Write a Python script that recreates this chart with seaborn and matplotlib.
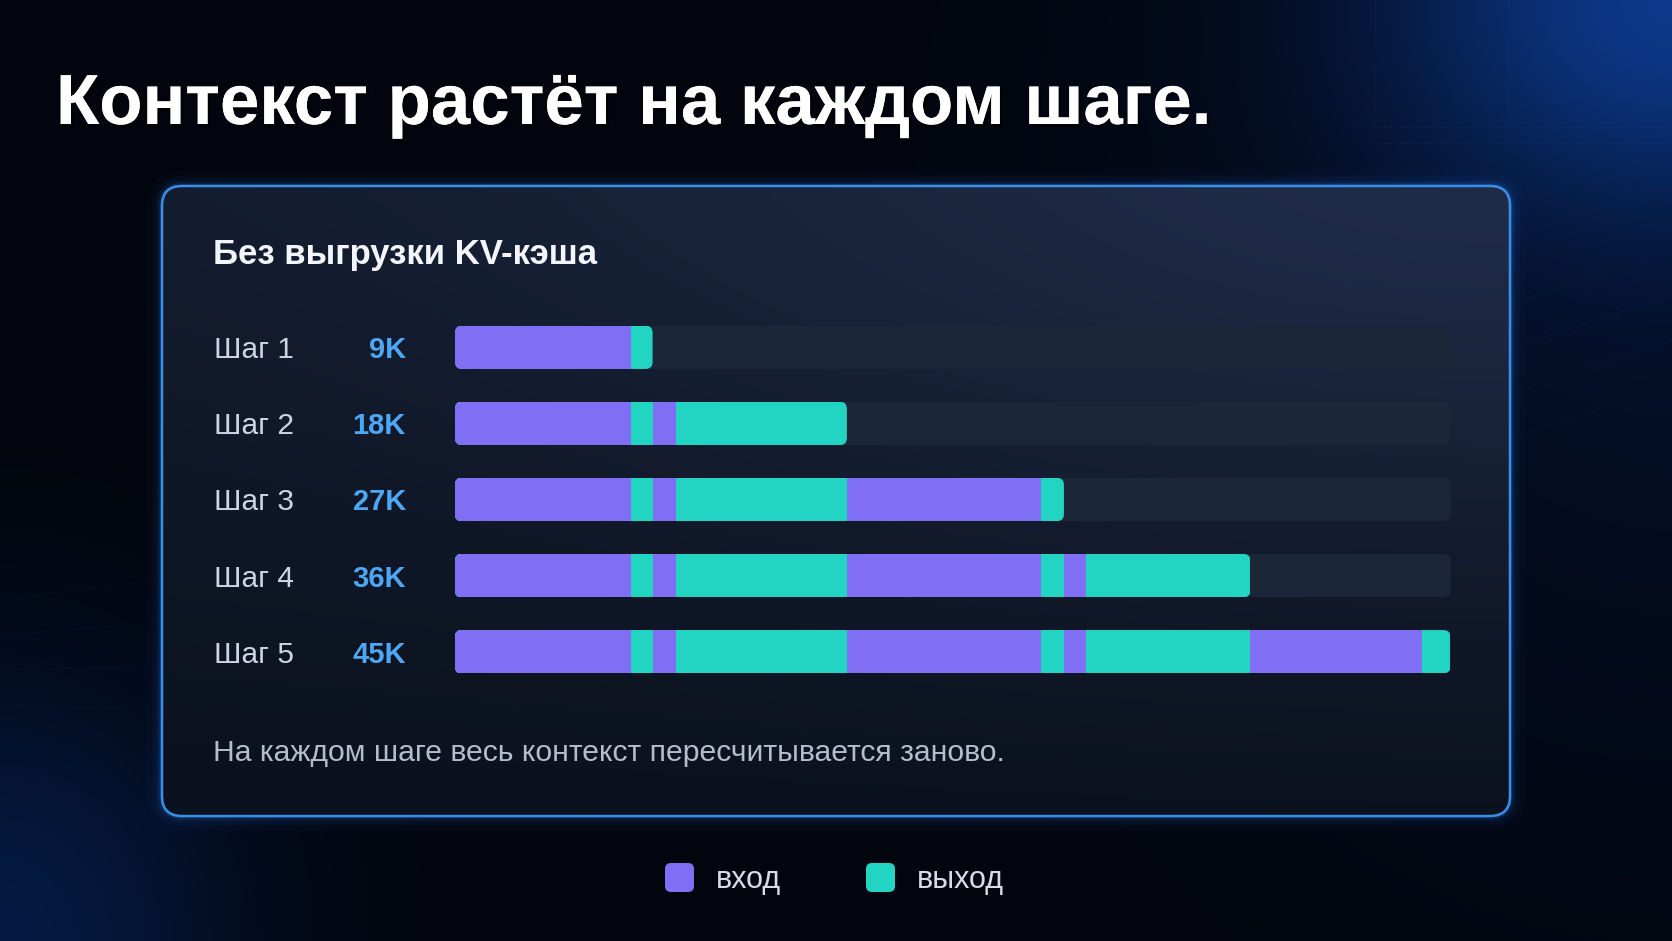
import numpy as np
import pandas as pd
import matplotlib
matplotlib.use("Agg")
import matplotlib.pyplot as plt
import matplotlib.patheffects as pe
from matplotlib.patches import FancyBboxPatch
from matplotlib.transforms import blended_transform_factory
import seaborn as sns

# ---------------- data ----------------
steps = ["Шаг 1", "Шаг 2", "Шаг 3", "Шаг 4", "Шаг 5"]
step_totals_labels = ["9K", "18K", "27K", "36K", "45K"]
segment_sizes = [7.94, 0.99, 1.05, 7.73, 8.77, 1.04, 0.99, 7.44, 7.77, 1.27]   # thousands of tokens
segment_kinds = ["вход", "выход", "вход", "выход", "вход", "выход", "вход", "выход", "вход", "выход"]
segments_per_step = [2, 4, 6, 8, 10]
track_max = 45
legend_labels = ["вход", "выход"]
title = "Контекст растёт на каждом шаге."
subtitle = "Без выгрузки KV-кэша"
footer = "На каждом шаге весь контекст пересчитывается заново."

# ---------------- style ----------------
sns.set_theme(style="white")
plt.rcParams["font.family"] = ["Liberation Sans", "DejaVu Sans"]

C_IN = "#806ef5"
C_OUT = "#22d5c2"
C_TRACK = "#1c2639"
colors = {"вход": C_IN, "выход": C_OUT}

W, H = 1672, 941
fig = plt.figure(figsize=(W / 100, H / 100), dpi=100)
fig.patch.set_facecolor("#03060f")

bg = fig.add_axes([0, 0, 1, 1])
bg.axis("off")

# background gradient
yy, xx = np.mgrid[0:H, 0:W].astype(float)
base = np.array([2, 5, 13], float)
g1 = np.exp(-(((xx - W) ** 2) / (2 * 200 ** 2) + (yy ** 2) / (2 * 150 ** 2)))
g1b = np.exp(-(((xx - W) ** 2) / (2 * 360 ** 2) + ((yy - 250) ** 2) / (2 * 400 ** 2)))
g2 = np.exp(-((xx ** 2) / (2 * 170 ** 2) + ((yy - H) ** 2) / (2 * 190 ** 2)))
img = (base[None, None, :] + g1[..., None] * np.array([8, 44, 104])
       + g1b[..., None] * np.array([2, 9, 24]) + g2[..., None] * np.array([3, 22, 54]))
bg.imshow(np.clip(img / 255, 0, 1), extent=(0, W, H, 0), aspect="auto", zorder=0)

# faint dotted grid in top-right
for yv in [127, 143]:
    bg.plot([1370, W], [yv, yv], color="#2a5fa8", lw=0.8, ls=(0, (1, 2)), alpha=0.3, zorder=1)
for xv in [1375, 1508]:
    bg.plot([xv, xv], [0, 127], color="#2a5fa8", lw=0.8, ls=(0, (1, 2)), alpha=0.2, zorder=1)
tt = np.linspace(0, 1, 100)
for k in range(4):
    bg.plot(1520 + 152 * tt, 300 + 45 * k - 50 * tt, color="#2a5fa8", lw=0.7, alpha=0.10, zorder=1)
    bg.plot(0 + 160 * tt, 600 + 35 * k - 20 * tt + 8 * k * tt, color="#2a5fa8", lw=0.7,
            ls=(0, (2, 2)), alpha=0.12, zorder=1)

bg.set_xlim(0, W)
bg.set_ylim(H, 0)

# panel
px0, py0, pw, ph = 162, 186, 1348, 630
for lw, a in [(22, 0.025), (14, 0.045), (8, 0.08), (4, 0.16)]:
    bg.add_patch(FancyBboxPatch((px0, py0), pw, ph, boxstyle="round,pad=0,rounding_size=20",
                                fill=False, edgecolor="#2f86ff", lw=lw, alpha=a, zorder=2))
panel = FancyBboxPatch((px0, py0), pw, ph, boxstyle="round,pad=0,rounding_size=20",
                       facecolor="none", edgecolor="none", zorder=3)
bg.add_patch(panel)
pyy, pxx = np.mgrid[0:ph, 0:pw].astype(float)
xn = pxx / pw
yn = pyy / ph
t = 0.35 * (1 - yn) + 0.65 * np.exp(-((1 - xn) ** 2 / 0.5 + yn ** 2 / 0.35))
c_dark = np.array([11, 17, 29], float)
c_bright = np.array([31, 44, 72], float)
pimg = c_dark + t[..., None] * (c_bright - c_dark)
im = bg.imshow(np.clip(pimg / 255, 0, 1), extent=(px0, px0 + pw, py0 + ph, py0), aspect="auto", zorder=3)
im.set_clip_path(panel)
bg.add_patch(FancyBboxPatch((px0, py0), pw, ph, boxstyle="round,pad=0,rounding_size=20",
                            fill=False, edgecolor="#3a8ee8", lw=1.8, zorder=4))
bg.set_xlim(0, W)
bg.set_ylim(H, 0)

# ---------------- bars ----------------
row_top, row_step = 309.25, 76.1
ax = fig.add_axes([455 / W, (H - (row_top + 5 * row_step)) / H, 995.7 / W, 5 * row_step / H])
ax.patch.set_alpha(0)
bar_h = 0.569

track_df = pd.DataFrame({"step": steps, "end": [track_max] * len(steps)})
sns.barplot(data=track_df, x="end", y="step", order=steps, orient="h", color=C_TRACK,
            width=bar_h, saturation=1, errorbar=None, linewidth=0, ax=ax)
n_track = len(ax.patches)

cum = np.cumsum(segment_sizes)
rows = []
for i, s in enumerate(steps):
    for k in range(segments_per_step[i]):
        rows.append({"step": s, "seg": k, "end": cum[k], "kind": segment_kinds[k]})
seg_df = pd.DataFrame(rows)
for k in range(len(segment_sizes) - 1, -1, -1):
    sub = seg_df[seg_df["seg"] == k]
    sns.barplot(data=sub, x="end", y="step", order=steps, orient="h", color=colors[segment_kinds[k]],
                width=bar_h, saturation=1, errorbar=None, linewidth=0, ax=ax)

ax.set_xlim(0, track_max)
ax.set_ylim(4.5, -0.5)
ax.axis("off")

row_totals = [cum[n - 1] for n in segments_per_step]
px_per_x = 995.7 / track_max
asp = px_per_x / row_step
r_px = 7
for j, p in enumerate(ax.patches):
    bb = p.get_bbox()
    y0, y1 = min(bb.y0, bb.y1), max(bb.y0, bb.y1)
    row = int(round((y0 + y1) / 2))
    right = track_max if j < n_track else row_totals[row]
    clip = FancyBboxPatch((0, y0), right, y1 - y0,
                          boxstyle=f"round,pad=0,rounding_size={r_px / px_per_x}",
                          mutation_aspect=asp, transform=ax.transData)
    p.set_clip_path(clip)

# ---------------- texts ----------------
bg.text(56, 124, title, fontsize=51, fontweight="bold", color="white", va="baseline", ha="left", zorder=10,
        path_effects=[pe.withSimplePatchShadow(offset=(2, -2), shadow_rgbFace="black", alpha=0.6), pe.Normal()])
bg.text(213, 264, subtitle, fontsize=25, fontweight="bold", color="#f3f5f9", va="baseline", ha="left", zorder=10)

trans = blended_transform_factory(bg.transData, ax.transData)
for i, (s, v) in enumerate(zip(steps, step_totals_labels)):
    bg.text(214, i, s, transform=trans, fontsize=21.5, color="#cdd5e4", va="center_baseline", ha="left", zorder=10)
    bg.text(406, i, v, transform=trans, fontsize=21, fontweight="bold", color="#4ea7f5",
            va="center_baseline", ha="right", zorder=10)

bg.text(213, 761, footer, fontsize=21.7, color="#b4bdcc", va="baseline", ha="left", zorder=10)

# legend
for x0, lab in zip([665, 866], legend_labels):
    bg.add_patch(FancyBboxPatch((x0, 863), 29, 29, boxstyle="round,pad=0,rounding_size=6",
                                facecolor=colors[lab], edgecolor="none", zorder=10))
    bg.text(x0 + 51, 888, lab, fontsize=22, color="#d6dde9", va="baseline", ha="left", zorder=10)

fig.savefig("out.png", dpi=100, facecolor=fig.get_facecolor())
